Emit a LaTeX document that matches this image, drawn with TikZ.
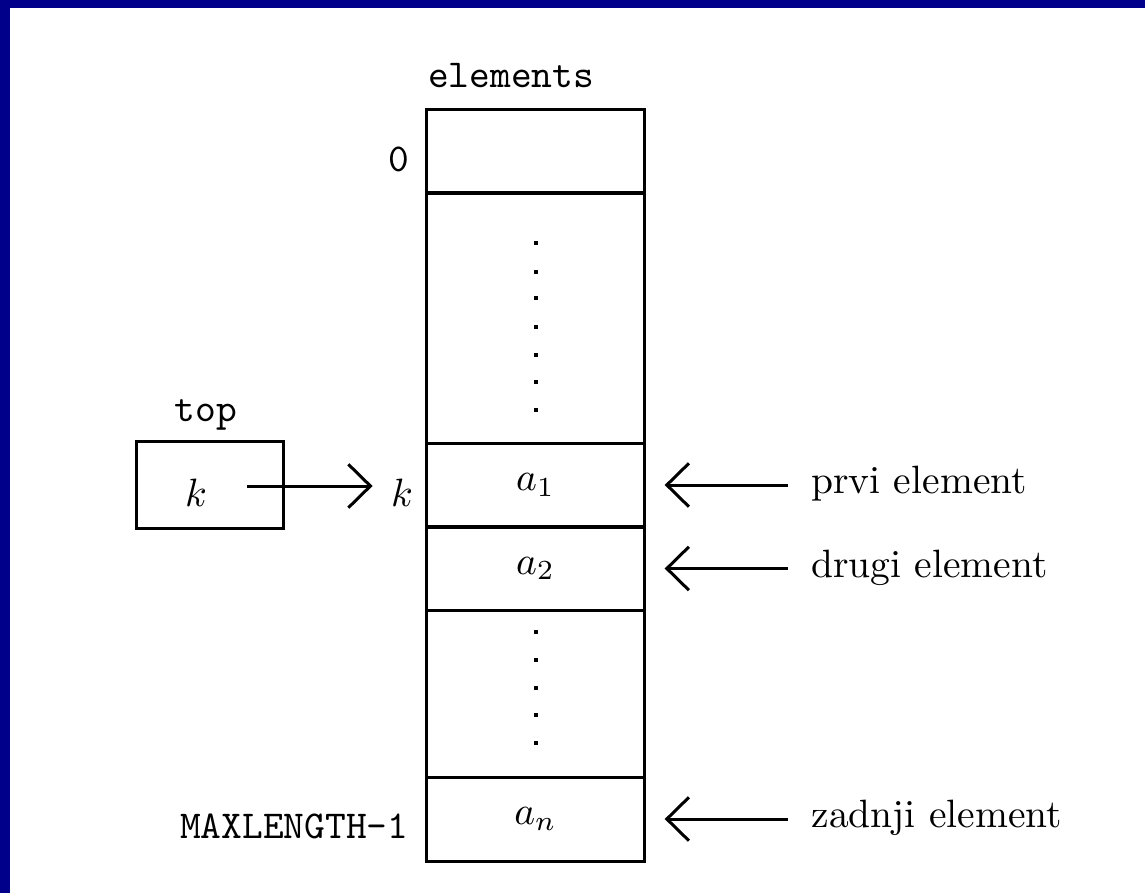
\documentclass[tikz,border=0pt]{standalone}
\usetikzlibrary{arrows.meta}
\definecolor{frameblue}{RGB}{0,0,139}
\begin{document}
\begin{tikzpicture}[x=0.253pt,y=-0.253pt, line width=0.76pt,
  cell/.style={draw, minimum width=55.4pt, inner sep=0pt},
  lbl/.style={inner sep=0pt, anchor=base},
  ptr/.style={-{Straight Barb[length=5.6pt,width=11pt]}}]
\fill[frameblue] (0,0) rectangle (1145,893);
\fill[white] (10,8) rectangle (1145,893);
\useasboundingbox (0,0) rectangle (1145,893);
% array cells
\node[cell, minimum height=21.25pt] (c0) at (535.5,151) {};
\node[cell, minimum height=63.25pt] (d1) at (535.5,318) {};
\node[cell, minimum height=21.25pt] (c1) at (535.5,485) {$a_1$};
\node[cell, minimum height=21pt] (c2) at (535.5,568.5) {$a_2$};
\node[cell, minimum height=42.25pt] (d2) at (535.5,693.5) {};
\node[cell, minimum height=21.25pt] (cn) at (535.5,819) {$a_n$};
% vertical dots
\foreach \y in {243,272,298,327,355,382,410,632,660,688,715,743}
  \fill (533.5,{\y-2}) rectangle (537.5,{\y+2});
% labels
\node[lbl] (elab) at (511,87) {\texttt{elements}};
\node[lbl] (zero) at (399,171) {\texttt{0}};
\node[lbl] (toplab) at (206,421) {\texttt{top}};
\node[draw, minimum width=37.4pt, minimum height=21.8pt, inner sep=0pt] (topbox) at (210,485) {};
\node[lbl] (ktop) at (196,506) {$k$};
\node[lbl] (kidx) at (402,506) {$k$};
\node[lbl, anchor=base east] (maxl) at (410,838) {\texttt{MAXLENGTH-1}};
\node[lbl, anchor=base west] (l1) at (810,493) {prvi element};
\node[lbl, anchor=base west] (l2) at (810,577) {drugi element};
\node[lbl, anchor=base west] (ln) at (810,827) {zadnji element};
% arrows
\coordinate (kstart) at (247,486);
\draw[ptr, shorten >=4.3pt] (kstart) -- (kidx.west |- kstart);
\draw[ptr, shorten >=4.6pt, shorten <=5.6pt] (l1.west |- c1.east) -- (c1.east);
\draw[ptr, shorten >=4.6pt, shorten <=5.6pt] (l2.west |- c2.east) -- (c2.east);
\draw[ptr, shorten >=4.6pt, shorten <=5.6pt] (ln.west |- cn.east) -- (cn.east);
\end{tikzpicture}
\end{document}
